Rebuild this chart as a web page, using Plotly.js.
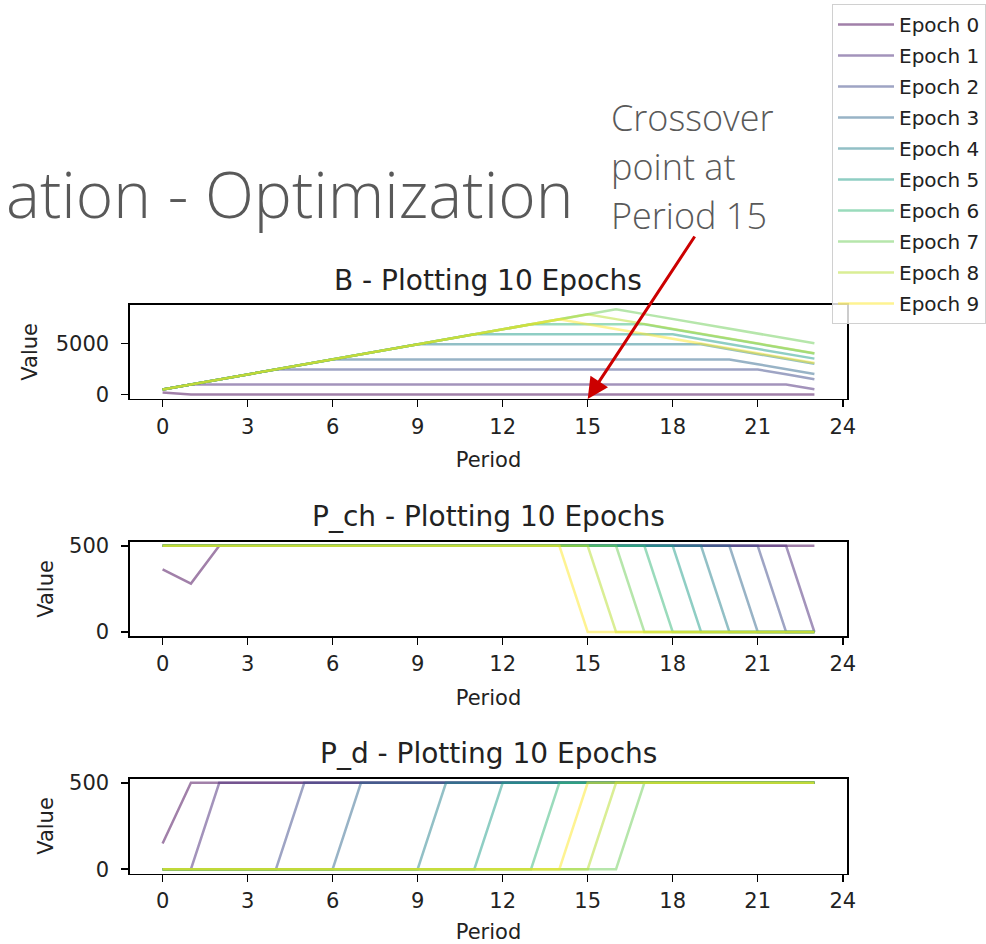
<!DOCTYPE html>
<html>
<head>
<meta charset="utf-8">
<script src="https://cdn.plot.ly/plotly-3.0.1.min.js"></script>
<style>
html,body{margin:0;padding:0;background:#ffffff;}
#chart{width:986px;height:944px;}
</style>
</head>
<body>
<div id="chart"></div>
<script>
// ---------------- DATA ----------------
const periods = [0,1,2,3,4,5,6,7,8,9,10,11,12,13,14,15,16,17,18,19,20,21,22,23];
const epochNames = ['Epoch 0','Epoch 1','Epoch 2','Epoch 3','Epoch 4','Epoch 5','Epoch 6','Epoch 7','Epoch 8','Epoch 9'];
const epochColors = ['#440154','#482878','#3e4989','#31688e','#26828e','#1f9e89','#35b779','#6ece58','#b5de2b','#fde725'];
const panelTitles = ['B - Plotting 10 Epochs','P_ch - Plotting 10 Epochs','P_d - Plotting 10 Epochs'];
const xTickVals = [0,3,6,9,12,15,18,21,24];
const xLabel = 'Period';
const yLabel = 'Value';
const slideTitle = 'ation - Optimization';
const noteLines = ['Crossover','point at','Period 15'];

// B (state) per epoch
const b0 = [207,7,7,7,7,7,7,7,7,7,7,7,7,7,7,7,7,7,7,7,7,7,7,7];
const b1 = [490,980,980,980,980,980,980,980,980,980,980,980,980,980,980,980,980,980,980,980,980,980,980,505];
const b2 = [490,980,1470,1960,2450,2450,2450,2450,2450,2450,2450,2450,2450,2450,2450,2450,2450,2450,2450,2450,2450,2450,1975,1500];
const b3 = [490,980,1470,1960,2450,2940,3430,3430,3430,3430,3430,3430,3430,3430,3430,3430,3430,3430,3430,3430,3430,2955,2480,2005];
const b4 = [490,980,1470,1960,2450,2940,3430,3920,4410,4900,4900,4900,4900,4900,4900,4900,4900,4900,4900,4900,4425,3950,3475,3000];
const b5 = [490,980,1470,1960,2450,2940,3430,3920,4410,4900,5390,5880,5880,5880,5880,5880,5880,5880,5880,5405,4930,4455,3980,3505];
const b6 = [490,980,1470,1960,2450,2940,3430,3920,4410,4900,5390,5880,6370,6860,6860,6860,6860,6860,6385,5910,5435,4960,4485,4010];
const b7 = [490,980,1470,1960,2450,2940,3430,3920,4410,4900,5390,5880,6370,6860,7350,7840,8330,7855,7380,6905,6430,5955,5480,5005];
const b8 = [490,980,1470,1960,2450,2940,3430,3920,4410,4900,5390,5880,6370,6860,7350,7840,7365,6890,6415,5940,5465,4990,4515,4040];
const b9 = [490,980,1470,1960,2450,2940,3430,3920,4410,4900,5390,5880,6370,6860,7350,6875,6400,5925,5450,4975,4500,4025,3550,3075];

// P_ch (charge) per epoch
const pch0 = [363,281,500,500,500,500,500,500,500,500,500,500,500,500,500,500,500,500,500,500,500,500,500,500];
const pch1 = [500,500,500,500,500,500,500,500,500,500,500,500,500,500,500,500,500,500,500,500,500,500,500,0];
const pch2 = [500,500,500,500,500,500,500,500,500,500,500,500,500,500,500,500,500,500,500,500,500,500,0,0];
const pch3 = [500,500,500,500,500,500,500,500,500,500,500,500,500,500,500,500,500,500,500,500,500,0,0,0];
const pch4 = [500,500,500,500,500,500,500,500,500,500,500,500,500,500,500,500,500,500,500,500,0,0,0,0];
const pch5 = [500,500,500,500,500,500,500,500,500,500,500,500,500,500,500,500,500,500,500,0,0,0,0,0];
const pch6 = [500,500,500,500,500,500,500,500,500,500,500,500,500,500,500,500,500,500,0,0,0,0,0,0];
const pch7 = [500,500,500,500,500,500,500,500,500,500,500,500,500,500,500,500,500,0,0,0,0,0,0,0];
const pch8 = [500,500,500,500,500,500,500,500,500,500,500,500,500,500,500,500,0,0,0,0,0,0,0,0];
const pch9 = [500,500,500,500,500,500,500,500,500,500,500,500,500,500,500,0,0,0,0,0,0,0,0,0];

// P_d (discharge) per epoch
const pd0 = [149,500,500,500,500,500,500,500,500,500,500,500,500,500,500,500,500,500,500,500,500,500,500,500];
const pd1 = [0,0,500,500,500,500,500,500,500,500,500,500,500,500,500,500,500,500,500,500,500,500,500,500];
const pd2 = [0,0,0,0,0,500,500,500,500,500,500,500,500,500,500,500,500,500,500,500,500,500,500,500];
const pd3 = [0,0,0,0,0,0,0,500,500,500,500,500,500,500,500,500,500,500,500,500,500,500,500,500];
const pd4 = [0,0,0,0,0,0,0,0,0,0,500,500,500,500,500,500,500,500,500,500,500,500,500,500];
const pd5 = [0,0,0,0,0,0,0,0,0,0,0,0,500,500,500,500,500,500,500,500,500,500,500,500];
const pd6 = [0,0,0,0,0,0,0,0,0,0,0,0,0,0,500,500,500,500,500,500,500,500,500,500];
const pd7 = [0,0,0,0,0,0,0,0,0,0,0,0,0,0,0,0,0,500,500,500,500,500,500,500];
const pd8 = [0,0,0,0,0,0,0,0,0,0,0,0,0,0,0,0,500,500,500,500,500,500,500,500];
const pd9 = [0,0,0,0,0,0,0,0,0,0,0,0,0,0,0,500,500,500,500,500,500,500,500,500];

const seriesB = [b0,b1,b2,b3,b4,b5,b6,b7,b8,b9];
const seriesPch = [pch0,pch1,pch2,pch3,pch4,pch5,pch6,pch7,pch8,pch9];
const seriesPd = [pd0,pd1,pd2,pd3,pd4,pd5,pd6,pd7,pd8,pd9];

// ---------------- LAYOUT GEOMETRY ----------------
const W = 986, H = 944;
function fx(px){ return px / W; }
function fy(py){ return 1 - py / H; }
const xDom = [fx(130), fx(847)];
const panelPx = [[305, 398.7], [541.5, 636.3], [778.5, 873.5]];
const yRanges = [[-409, 8746], [-25, 525], [-25, 525]];
const yDticks = [5000, 500, 500];
const yTitleStandoff = [12, 10, 10];

const mplFont = 'DejaVu Sans, Liberation Sans, sans-serif';
const textColor = '#222222';

const traces = [];
const panels = [seriesB, seriesPch, seriesPd];
panels.forEach(function(group, p){
  group.forEach(function(vals, i){
    traces.push({
      type: 'scatter', mode: 'lines',
      x: periods, y: vals,
      xaxis: p === 0 ? 'x' : 'x' + (p + 1),
      yaxis: p === 0 ? 'y' : 'y' + (p + 1),
      name: epochNames[i],
      legendgroup: 'g' + i,
      showlegend: p === 0,
      line: {color: epochColors[i], width: 2.5},
      opacity: 0.5,
      hoverinfo: 'x+y+name'
    });
  });
});

const layout = {
  width: W, height: H,
  margin: {l: 0, r: 0, t: 0, b: 0, pad: 0},
  paper_bgcolor: '#ffffff', plot_bgcolor: '#ffffff',
  font: {family: mplFont, size: 21, color: textColor},
  showlegend: true,
  legend: {
    x: fx(832), y: fy(4), xanchor: 'left', yanchor: 'top',
    bgcolor: 'rgba(255,255,255,0.8)', bordercolor: '#d0d0d0', borderwidth: 1,
    font: {family: mplFont, size: 20, color: textColor},
    traceorder: 'grouped', tracegroupgap: 2, itemwidth: 56
  },
  annotations: [],
  shapes: []
};

for (let p = 0; p < 3; p++) {
  const xk = p === 0 ? 'xaxis' : 'xaxis' + (p + 1);
  const yk = p === 0 ? 'yaxis' : 'yaxis' + (p + 1);
  const yid = p === 0 ? 'y' : 'y' + (p + 1);
  const xid = p === 0 ? 'x' : 'x' + (p + 1);
  layout[xk] = {
    domain: xDom, anchor: yid, range: [-1.15, 24.15],
    tickmode: 'array', tickvals: xTickVals, ticktext: xTickVals.map(String),
    showgrid: false, zeroline: false,
    showline: true, mirror: true, linecolor: '#000000', linewidth: 1.6,
    ticks: 'outside', ticklen: 7, tickwidth: 1.5, tickcolor: '#000000',
    ticklabelstandoff: 1,
    tickfont: {family: mplFont, size: 21, color: textColor},
    title: {text: xLabel, font: {family: mplFont, size: 21, color: textColor}, standoff: 15}
  };
  layout[yk] = {
    domain: [fy(panelPx[p][1]), fy(panelPx[p][0])], anchor: xid,
    range: yRanges[p], tick0: 0, dtick: yDticks[p],
    showgrid: false, zeroline: false,
    showline: true, mirror: true, linecolor: '#000000', linewidth: 1.6,
    ticks: 'outside', ticklen: 7, tickwidth: 1.5, tickcolor: '#000000',
    ticklabelstandoff: 8,
    tickfont: {family: mplFont, size: 21, color: textColor},
    title: {text: yLabel, font: {family: mplFont, size: 21, color: textColor}, standoff: yTitleStandoff[p]}
  };
  layout.annotations.push({
    xref: 'paper', yref: 'paper', x: (xDom[0] + xDom[1]) / 2, y: fy(panelPx[p][0] - 25),
    xanchor: 'center', yanchor: 'middle', showarrow: false,
    text: panelTitles[p], font: {family: mplFont, size: 28, color: textColor}
  });
}

// slide overlay text
layout.annotations.push({
  xref: 'paper', yref: 'paper', x: fx(575), y: fy(218 - 0.388 * 64),
  xanchor: 'right', yanchor: 'middle', showarrow: false,
  text: slideTitle, font: {family: 'Open Sans, sans-serif', size: 64, color: '#595959', weight: 300}
});
const noteBaselines = [131, 180, 229];
noteLines.forEach(function(t, k){
  layout.annotations.push({
    xref: 'paper', yref: 'paper', x: fx(610), y: fy(noteBaselines[k] - 0.388 * 36),
    xanchor: 'left', yanchor: 'middle', showarrow: false, borderpad: 0,
    text: t, font: {family: 'Open Sans, sans-serif', size: 36, color: '#595959', weight: 300}
  });
});
// red arrow pointing at period 15
layout.annotations.push({
  xref: 'x', yref: 'paper', x: 15, y: fy(399),
  ax: 108, ay: -164, axref: 'pixel', ayref: 'pixel',
  text: '', showarrow: true, arrowhead: 2, arrowsize: 1.4, arrowwidth: 3,
  arrowcolor: '#cc0000', standoff: 0
});

Plotly.newPlot('chart', traces, layout, {displayModeBar: false, staticPlot: true});
</script>
</body>
</html>
